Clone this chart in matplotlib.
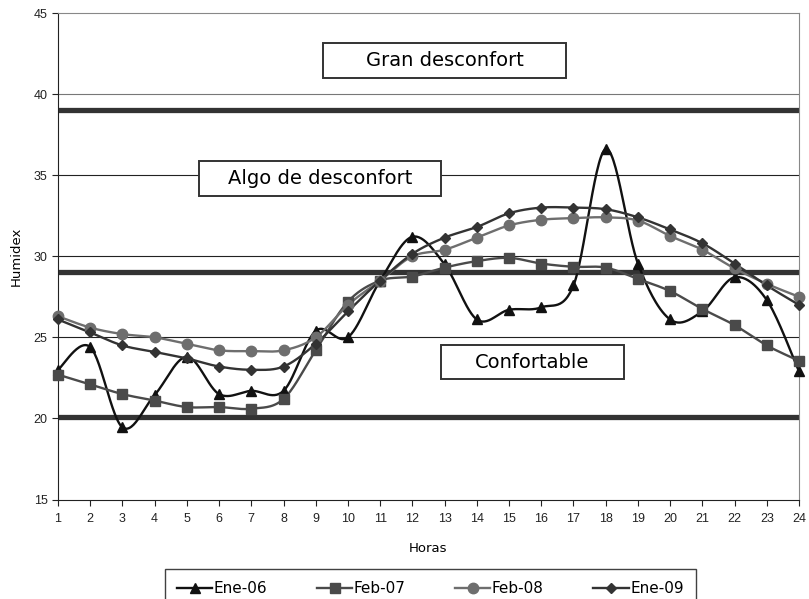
import numpy as np
import matplotlib
matplotlib.use("Agg")
import matplotlib.pyplot as plt
from matplotlib.lines import Line2D
from matplotlib.patches import Rectangle

hours = list(range(1, 25))
ene06 = [23.0, 24.4, 19.45, 21.45, 23.8, 21.5, 21.7, 21.7, 25.4, 25.0, 28.5, 31.2,
         29.5, 26.1, 26.7, 26.85, 28.2, 36.6, 29.55, 26.1, 26.6, 28.7, 27.3, 22.9]
feb07 = [22.7, 22.1, 21.5, 21.1, 20.7, 20.7, 20.6, 21.2, 24.2, 27.2, 28.5, 28.75,
         29.3, 29.7, 29.9, 29.55, 29.35, 29.3, 28.6, 27.85, 26.75, 25.75, 24.5, 23.55]
feb08 = [26.3, 25.6, 25.2, 25.0, 24.6, 24.2, 24.15, 24.2, 25.0, 27.0, 28.5, 30.0,
         30.4, 31.15, 31.9, 32.25, 32.35, 32.4, 32.2, 31.25, 30.4, 29.25, 28.3, 27.5]
ene09 = [26.1, 25.3, 24.5, 24.1, 23.7, 23.2, 23.0, 23.2, 24.6, 26.6, 28.5, 30.15,
         31.15, 31.8, 32.65, 33.0, 33.0, 32.9, 32.4, 31.65, 30.8, 29.55, 28.2, 27.0]
series_names = ["Ene-06", "Feb-07", "Feb-08", "Ene-09"]
thresholds = [39.0, 29.0, 20.1]
zone_labels = ["Gran desconfort", "Algo de desconfort", "Confortable"]
yticks = [15, 20, 25, 30, 35, 40, 45]

def smooth(x, y, n=30):
    x = np.asarray(x, float); y = np.asarray(y, float)
    px = np.concatenate([[x[0]], x, [x[-1]]])
    py = np.concatenate([[y[0]], y, [y[-1]]])
    xs, ys = [], []
    t = np.linspace(0, 1, n)
    for i in range(1, len(px) - 2):
        p0 = np.array([px[i], py[i]]); p3 = np.array([px[i + 1], py[i + 1]])
        c1 = p0 + (np.array([px[i + 1], py[i + 1]]) - np.array([px[i - 1], py[i - 1]])) / 6
        c2 = p3 - (np.array([px[i + 2], py[i + 2]]) - np.array([px[i], py[i]])) / 6
        b = ((1 - t) ** 3)[:, None] * p0 + (3 * (1 - t) ** 2 * t)[:, None] * c1 + \
            (3 * (1 - t) * t ** 2)[:, None] * c2 + (t ** 3)[:, None] * p3
        xs.extend(b[:, 0]); ys.extend(b[:, 1])
    return xs, ys

comic = ["DejaVu Sans"]
tickfont = ["Liberation Sans", "DejaVu Sans"]
W, H = 809, 599

fig = plt.figure(figsize=(8.09, 5.99), dpi=100)
ax = fig.add_axes([58 / W, 1 - 499.5 / H, (799 - 58) / W, (499.5 - 13) / H])
ax.set_xlim(1, 24)
ax.set_ylim(15, 45)

for g in [25, 30, 35, 40]:
    ax.axhline(g, color="#222222" if g != 40 else "#777777", lw=0.8, zorder=1)
for th in thresholds:
    ax.axhline(th, color="#333333", lw=3.8, zorder=2)

styles = [
    (ene06, "#111111", "^", 7.5),
    (feb07, "#4a4a4a", "s", 7),
    (feb08, "#6e6e6e", "o", 7.5),
    (ene09, "#333333", "D", 5.5),
]
handles = []
for (vals, col, mk, ms), name in zip(styles, series_names):
    sx, sy = smooth(hours, vals)
    ax.plot(sx, sy, color=col, lw=1.7, zorder=3, clip_on=False)
    ax.plot(hours, vals, ls="none", marker=mk, ms=ms, color=col, zorder=4, clip_on=False)
    handles.append(Line2D([], [], color=col, lw=1.7, marker=mk, ms=ms))

ax.set_xticks(hours)
ax.set_xticklabels([str(h) for h in hours], family=tickfont, fontsize=9)
ax.set_yticks(yticks)
ax.set_yticklabels([str(v) for v in yticks], family=tickfont, fontsize=9)
ax.tick_params(axis="both", direction="out", length=4, width=0.8, colors="#222222")
ax.tick_params(axis="x", pad=6)
for s in ["top", "right"]:
    ax.spines[s].set_color("#888888")
for s in ["left", "bottom"]:
    ax.spines[s].set_color("#222222")

ax.set_ylabel("Humidex", family=comic, fontsize=9.5, labelpad=8)
ax.set_xlabel("Horas", family=comic, fontsize=9.5, labelpad=12)

boxes = [(323, 43, 566, 78), (199, 161, 441, 196), (441, 345, 624, 379)]
for (x0, y0, x1, y1), lab in zip(boxes, zone_labels):
    fig.patches.append(Rectangle((x0 / W, 1 - y1 / H), (x1 - x0) / W, (y1 - y0) / H,
                                 transform=fig.transFigure, fc="white", ec="#333333",
                                 lw=1.4, zorder=5))
    fig.text((x0 + x1) / 2 / W, 1 - (y0 + y1) / 2 / H, lab, family=comic, fontsize=14,
             ha="center", va="center", zorder=6)

leg = fig.legend(handles, series_names, loc="upper left",
                 bbox_to_anchor=(165 / W, 1 - 569 / H, (696 - 165) / W, 0.0001),
                 mode="expand", ncol=4, frameon=True, fancybox=False, edgecolor="#111111",
                 handlelength=2.3, handletextpad=0.1, borderpad=0.8, borderaxespad=0,
                 prop={"family": comic, "size": 11})
leg.get_frame().set_linewidth(1.0)

fig.savefig("out.png", dpi=100)
